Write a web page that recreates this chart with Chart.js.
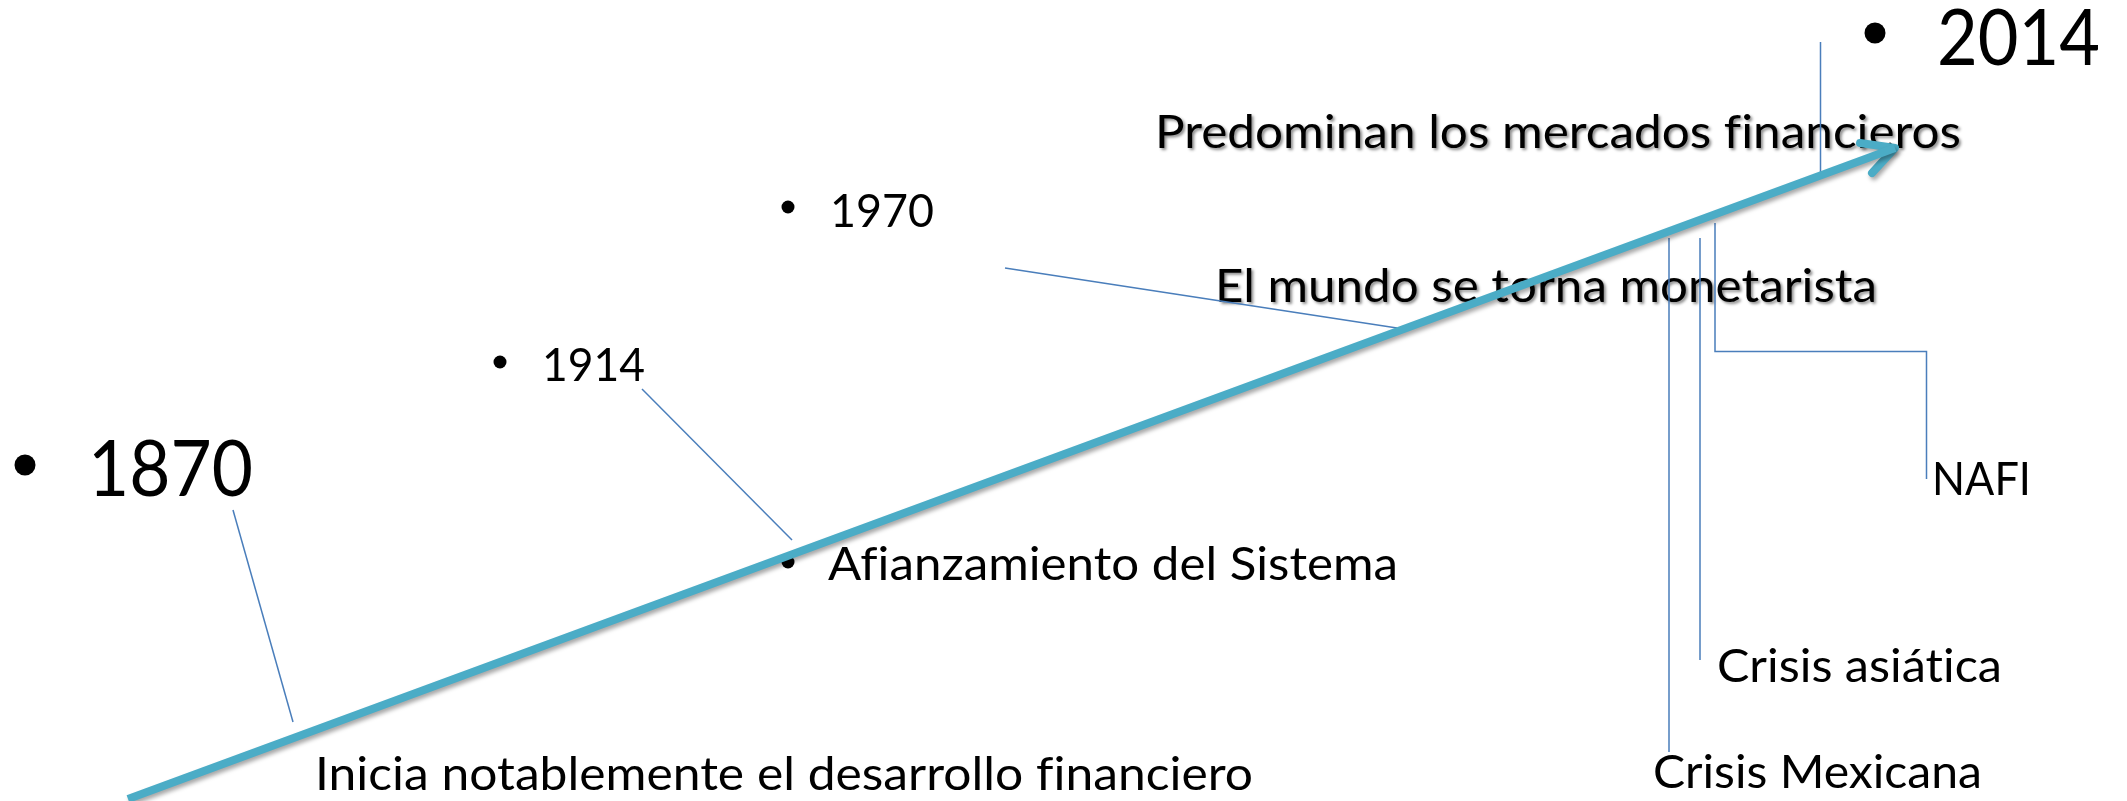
<!DOCTYPE html>
<html>
<head>
<meta charset="utf-8">
<script src="https://cdn.jsdelivr.net/npm/chart.js@4/dist/chart.umd.min.js"></script>
<style>
  html, body { margin: 0; padding: 0; background: #ffffff; }
  #wrap { width: 2127px; height: 801px; position: relative; }
  canvas { display: block; }
</style>
</head>
<body>
<div id="wrap"><canvas id="c" width="2127" height="801"></canvas></div>
<script>
// ---- data (slide coordinates, x: 0..2127 left->right, y: 0..801 top->bottom) ----
const arrowX = [128, 1895];
const arrowY = [799, 148];
const headX = [1860, 1895, 1872];
const headY = [143, 148, 173];

const yearLabels = ['1870', '1914', '1970', '2014'];
const yearBulletX = [25, 500, 788, 1875];
const yearBulletY = [465, 362, 207, 33];

const eventLabels = [
  'Inicia notablemente el desarrollo financiero',
  'Afianzamiento del Sistema',
  'El mundo se torna monetarista',
  'Predominan los mercados financieros',
  'Crisis Mexicana',
  'Crisis asiática',
  'NAFI'
];
const eventBulletX = [788];
const eventBulletY = [562];

const link1870X = [233, 293];   const link1870Y = [510, 722];
const link1914X = [642, 792];   const link1914Y = [389, 540];
const link1970X = [1005, 1397]; const link1970Y = [268, 328];
const link2014X = [1820.5, 1820.5]; const link2014Y = [42, 177];
const linkMexX = [1669, 1669];  const linkMexY = [238, 752];
const linkAsiaX = [1700, 1700]; const linkAsiaY = [238, 660];
const linkNafiX = [1715, 1715, 1926.5, 1926.5]; const linkNafiY = [223, 351.5, 351.5, 479];

// ---- layout / styles (kept apart from data) ----
const yearLayout = [
  { x: 88,   y: 496, size: 78, w: 165 },
  { x: 542,  y: 381, size: 47, w: 103 },
  { x: 830,  y: 227, size: 47, w: 104 },
  { x: 1937, y: 65,  size: 78, w: 163 }
];
const eventLayout = [
  { x: 315,  y: 790, size: 47, w: 938, shadow: false },
  { x: 828,  y: 580, size: 47, w: 570, shadow: false },
  { x: 1215, y: 302, size: 47, w: 662, shadow: true },
  { x: 1155, y: 148, size: 47, w: 806, shadow: true },
  { x: 1653, y: 788, size: 47, w: 329, shadow: false },
  { x: 1717, y: 682, size: 47, w: 285, shadow: false },
  { x: 1932, y: 495, size: 47, w: 99,  shadow: false }
];
const ARROW = '#4BACC6';
const LINK = '#4A7EBB';
const FONT = 'Lato, "Open Sans", "Noto Sans", sans-serif';

function pts(xs, ys) { return xs.map((x, i) => ({ x: x, y: ys[i] })); }

function linkSet(xs, ys) {
  return { data: pts(xs, ys), showLine: true, borderColor: LINK, borderWidth: 1.5,
           pointRadius: 0, fill: false, order: 2, tension: 0 };
}

const textPlugin = {
  id: 'texts',
  beforeDatasetsDraw(chart) {
    const ctx = chart.ctx, xs = chart.scales.x, ys = chart.scales.y;
    const draw = (txt, L) => {
      ctx.save();
      ctx.font = L.size + 'px ' + FONT;
      if ('letterSpacing' in ctx) ctx.letterSpacing = '0.01px';
      ctx.textBaseline = 'alphabetic';
      ctx.textAlign = 'left';
      ctx.fillStyle = '#000000';
      const m = ctx.measureText(txt).width;
      const sx = L.w / m;
      ctx.translate(xs.getPixelForValue(L.x), ys.getPixelForValue(L.y));
      ctx.scale(sx, 1);
      if (L.shadow) {
        ctx.shadowColor = 'rgba(0,0,0,0.45)';
        ctx.shadowOffsetX = 2; ctx.shadowOffsetY = 2; ctx.shadowBlur = 3;
      }
      ctx.fillText(txt, 0, 0);
      ctx.restore();
    };
    yearLabels.forEach((t, i) => draw(t, yearLayout[i]));
    eventLabels.forEach((t, i) => draw(t, eventLayout[i]));
  }
};

const shadowPlugin = {
  id: 'arrowShadow',
  beforeDatasetDraw(chart, args) {
    const ds = chart.data.datasets[args.index];
    if (ds.isArrow) {
      const ctx = chart.ctx;
      ctx.save();
      ctx.shadowColor = 'rgba(0,0,0,0.35)';
      ctx.shadowOffsetX = 2; ctx.shadowOffsetY = 3; ctx.shadowBlur = 4;
    }
  },
  afterDatasetDraw(chart, args) {
    const ds = chart.data.datasets[args.index];
    if (ds.isArrow) chart.ctx.restore();
  }
};

function build() {
  new Chart(document.getElementById('c'), {
    type: 'scatter',
    data: {
      datasets: [
        { isArrow: true, data: pts(arrowX, arrowY), showLine: true, borderColor: ARROW,
          borderWidth: 8, pointRadius: 0, borderCapStyle: 'butt', order: 0 },
        { isArrow: true, data: pts(headX, headY), showLine: true, borderColor: ARROW,
          borderWidth: 8, pointRadius: 0, borderCapStyle: 'round', borderJoinStyle: 'round', order: 0 },
        linkSet(link1870X, link1870Y),
        linkSet(link1914X, link1914Y),
        linkSet(link1970X, link1970Y),
        linkSet(link2014X, link2014Y),
        linkSet(linkMexX, linkMexY),
        linkSet(linkAsiaX, linkAsiaY),
        linkSet(linkNafiX, linkNafiY),
        { data: pts(yearBulletX, yearBulletY), showLine: false, backgroundColor: '#000',
          borderWidth: 0, pointRadius: [10.5, 6.5, 6.5, 10.5], order: 3 },
        { data: pts(eventBulletX, eventBulletY), showLine: false, backgroundColor: '#000',
          borderWidth: 0, pointRadius: 6.5, order: 3 }
      ]
    },
    options: {
      responsive: false, animation: false, events: [],
      devicePixelRatio: 1,
      layout: { padding: 0, autoPadding: false },
      clip: false,
      plugins: { legend: { display: false }, tooltip: { enabled: false } },
      scales: {
        x: { type: 'linear', min: 0, max: 2127, display: false, grace: 0 },
        y: { type: 'linear', min: 0, max: 801, reverse: true, display: false, grace: 0 }
      }
    },
    plugins: [textPlugin, shadowPlugin]
  });
}

const loads = [document.fonts.load('47px Lato'), document.fonts.load('78px Lato')];
let done = false;
Promise.all(loads).then(() => { if (!done) { done = true; build(); } })
  .catch(() => { if (!done) { done = true; build(); } });
setTimeout(() => { if (!done) { done = true; build(); } }, 1500);
</script>
</body>
</html>
